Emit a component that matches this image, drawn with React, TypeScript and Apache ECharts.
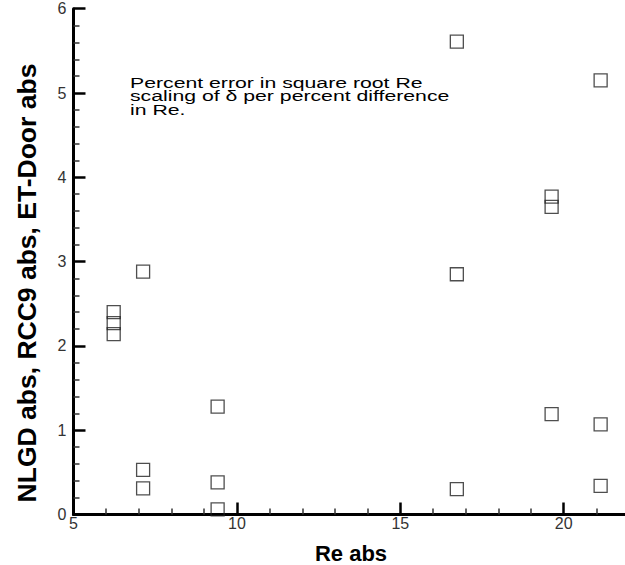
import React, { useEffect, useRef } from "react";
import * as echarts from "echarts";

// Re abs values (x) shared by the three series
const reAbs = [6.23, 7.13, 9.41, 16.73, 19.63, 21.13];
// y values
const nlgdAbs = [2.4, 2.88, 1.28, 5.61, 3.77, 5.15];
const rcc9Abs = [2.27, 0.53, 0.38, 2.85, 3.65, 1.07];
const etDoorAbs = [2.14, 0.31, 0.06, 0.3, 1.19, 0.34];

const xTickLabels = ["5", "10", "15", "20"];
const yTickLabels = ["0", "1", "2", "3", "4", "5", "6"];

const xTitle = "Re abs";
const yTitle = "NLGD abs, RCC9 abs, ET-Door abs";
const note = "Percent error in square root Re\nscaling of \u03b4 per percent difference\nin Re.";

export default function App() {
  const ref = useRef<HTMLDivElement>(null);
  useEffect(() => {
    if (!ref.current) return;
    const chart = echarts.init(ref.current, undefined, { renderer: "svg" });
    const pts = (ys: number[]) => reAbs.map((x, i) => [x, ys[i]]);
    const markStyle = {
      color: "rgba(0,0,0,0)",
      borderColor: "#222",
      borderWidth: 1.3,
    };
    const mkSeries = (name: string, ys: number[]) => ({
      name,
      type: "scatter",
      data: pts(ys),
      symbol: "rect",
      symbolSize: 13,
      itemStyle: markStyle,
      emphasis: { disabled: true },
    });
    chart.setOption({
      animation: false,
      backgroundColor: "#fff",
      grid: {
        left: 73.5,
        top: 8.7,
        height: 505.8,
        width: 653.6,
        containLabel: false,
        outerBoundsMode: "none",
      },
      xAxis: {
        type: "value",
        min: 5,
        max: 25,
        interval: 5,
        axisLine: { show: true, onZero: false, lineStyle: { color: "#000", width: 3 } },
        axisTick: { show: true, inside: true, length: 12, lineStyle: { color: "#000", width: 2.5 } },
        minorTick: { show: true, splitNumber: 5, length: 6, lineStyle: { color: "#333", width: 1.5 } },
        splitLine: { show: false },
        axisLabel: {
          margin: 1,
          fontFamily: "Liberation Sans",
          fontSize: 16,
          color: "#333",
          formatter: (v: number) => (xTickLabels.includes(String(v)) ? String(v) : ""),
        },
      },
      yAxis: {
        type: "value",
        min: 0,
        max: 6,
        interval: 1,
        axisLine: { show: true, onZero: false, lineStyle: { color: "#000", width: 3 } },
        axisTick: { show: true, inside: true, length: 12, lineStyle: { color: "#000", width: 2.5 } },
        minorTick: { show: true, splitNumber: 5, length: 6, lineStyle: { color: "#333", width: 1.5 } },
        splitLine: { show: false },
        axisLabel: {
          margin: 7,
          fontFamily: "Liberation Sans",
          fontSize: 16,
          color: "#333",
          formatter: (v: number) => (yTickLabels.includes(String(v)) ? String(v) : ""),
        },
      },
      series: [
        mkSeries("NLGD abs", nlgdAbs),
        mkSeries("RCC9 abs", rcc9Abs),
        mkSeries("ET-Door abs", etDoorAbs),
      ],
      graphic: [
        {
          type: "text",
          x: 351,
          y: 553,
          style: {
            text: xTitle,
            fontFamily: "Liberation Sans",
            fontWeight: "bold",
            fontSize: 22,
            fill: "#000",
            align: "center",
            verticalAlign: "middle",
          },
        },
        {
          type: "text",
          x: 27,
          y: 283,
          rotation: Math.PI / 2,
          style: {
            text: yTitle,
            fontFamily: "Liberation Sans",
            fontWeight: "bold",
            fontSize: 26.5,
            fill: "#000",
            align: "center",
            verticalAlign: "middle",
          },
        },
        {
          type: "text",
          x: 130,
          y: 75.5,
          scaleX: 1.37,
          style: {
            text: note,
            fontFamily: "Liberation Sans",
            fontSize: 15.5,
            lineHeight: 13.5,
            fill: "#000",
            align: "left",
            verticalAlign: "top",
          },
        },
      ],
    });
    return () => chart.dispose();
  }, []);
  return (
    <div
      ref={ref}
      style={{ position: "absolute", left: 0, top: 0, width: 625, height: 565, overflow: "hidden" }}
    />
  );
}
